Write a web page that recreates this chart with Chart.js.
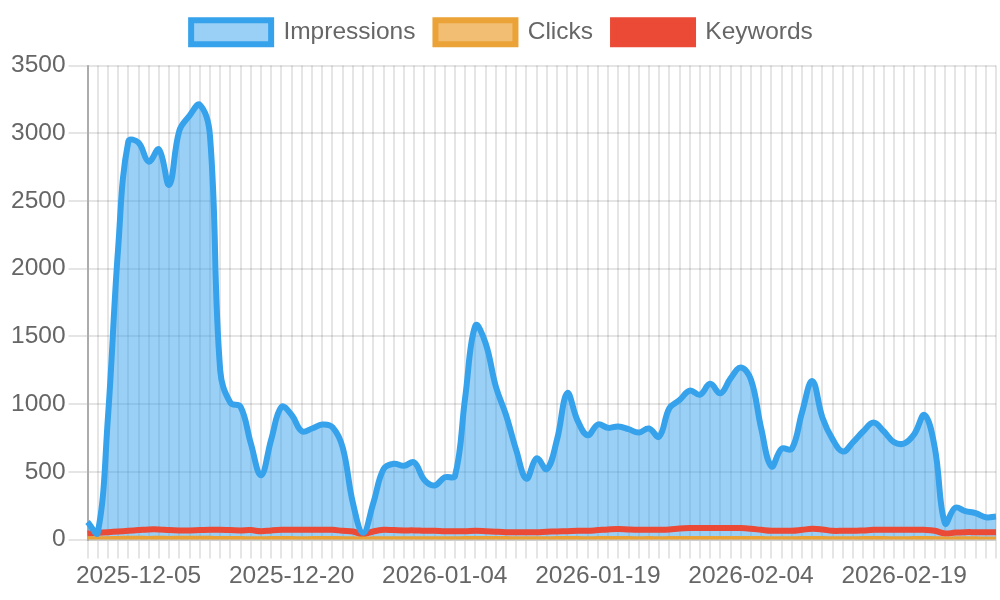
<!DOCTYPE html>
<html>
<head>
<meta charset="utf-8">
<title>Impressions / Clicks / Keywords</title>
<script src="https://cdn.jsdelivr.net/npm/chart.js@4"></script>
<style>
  html, body { margin: 0; padding: 0; background: #fff; }
  #wrap { width: 1000px; height: 600px; }
</style>
</head>
<body>
<div id="wrap"><canvas id="chart" width="1000" height="600"></canvas></div>
<script>
// dates on the x axis (one day, 2026-01-27, is missing in the source data)
const dates = [
  "2025-11-30",
  "2025-12-01", "2025-12-02", "2025-12-03", "2025-12-04", "2025-12-05", "2025-12-06", "2025-12-07", "2025-12-08", "2025-12-09", "2025-12-10",
  "2025-12-11", "2025-12-12", "2025-12-13", "2025-12-14", "2025-12-15", "2025-12-16", "2025-12-17", "2025-12-18", "2025-12-19", "2025-12-20",
  "2025-12-21", "2025-12-22", "2025-12-23", "2025-12-24", "2025-12-25", "2025-12-26", "2025-12-27", "2025-12-28", "2025-12-29", "2025-12-30",
  "2025-12-31",
  "2026-01-01", "2026-01-02", "2026-01-03", "2026-01-04", "2026-01-05", "2026-01-06", "2026-01-07", "2026-01-08", "2026-01-09", "2026-01-10",
  "2026-01-11", "2026-01-12", "2026-01-13", "2026-01-14", "2026-01-15", "2026-01-16", "2026-01-17", "2026-01-18", "2026-01-19", "2026-01-20",
  "2026-01-21", "2026-01-22", "2026-01-23", "2026-01-24", "2026-01-25", "2026-01-26", "2026-01-28", "2026-01-29", "2026-01-30", "2026-01-31",
  "2026-02-01", "2026-02-02", "2026-02-03", "2026-02-04", "2026-02-05", "2026-02-06", "2026-02-07", "2026-02-08", "2026-02-09", "2026-02-10",
  "2026-02-11", "2026-02-12", "2026-02-13", "2026-02-14", "2026-02-15", "2026-02-16", "2026-02-17", "2026-02-18", "2026-02-19", "2026-02-20",
  "2026-02-21", "2026-02-22", "2026-02-23", "2026-02-24", "2026-02-25", "2026-02-26", "2026-02-27", "2026-02-28"
];

const impressions = [
  130, 50, 900, 2150, 2940, 2930, 2790, 2880, 2620, 3020,
  3130, 3210, 2980, 1250, 1010, 980, 710, 475, 740, 980,
  920, 800, 820, 850, 830, 680, 270, 50, 270, 520,
  560, 545, 570, 440, 400, 460, 470, 1050, 1580, 1450,
  1130, 920, 660, 450, 600, 520, 740, 1080, 880, 770,
  850, 825, 835, 815, 790, 820, 760, 970, 1030, 1100,
  1070, 1150, 1080, 1190, 1270, 1180, 820, 540, 670, 670,
  940, 1170, 900, 740, 650, 720, 800, 865, 800, 720,
  710, 780, 920, 680, 120, 235, 210, 195, 165, 170
];

const clicks = [
  3, 2, 3, 5, 6, 6, 5, 6, 5, 6,
  6, 7, 6, 4, 4, 4, 3, 3, 4, 4,
  4, 3, 4, 4, 4, 3, 2, 1, 2, 3,
  3, 3, 3, 2, 2, 3, 3, 4, 5, 5,
  4, 4, 3, 3, 3, 3, 4, 4, 4, 3,
  4, 4, 4, 4, 3, 4, 3, 4, 4, 5,
  4, 5, 4, 5, 5, 5, 4, 3, 3, 3,
  4, 5, 4, 3, 3, 3, 4, 4, 4, 3,
  3, 4, 4, 3, 1, 2, 2, 2, 1, 1
];

const keywords = [
  45, 50, 55, 60, 65, 70, 75, 75, 70, 68,
  68, 70, 72, 72, 70, 68, 70, 62, 68, 72,
  72, 72, 72, 72, 72, 65, 60, 40, 60, 72,
  70, 68, 68, 65, 65, 62, 62, 62, 65, 62,
  58, 55, 55, 55, 55, 58, 60, 62, 65, 65,
  70, 75, 78, 75, 73, 73, 73, 75, 82, 85,
  85, 85, 85, 85, 85, 80, 72, 65, 65, 65,
  72, 80, 75, 65, 65, 65, 68, 72, 72, 72,
  72, 72, 72, 65, 45, 52, 55, 55, 55, 55
];

const yTicks = [0, 500, 1000, 1500, 2000, 2500, 3000, 3500];

const textColor = "#666";
const gridColor = "rgba(0,0,0,0.1)";
const font = { size: 24.5, family: "'Liberation Sans', Arial, sans-serif" };

// leaves some room between the legend and the plot
const legendGap = {
  id: "legendGap",
  beforeInit(chart) {
    const fit = chart.legend.fit;
    chart.legend.fit = function () {
      fit.call(this);
      this.height += 11;
    };
  },
};

const ctx = document.getElementById("chart").getContext("2d");
new Chart(ctx, {
  type: "line",
  data: {
    labels: dates,
    datasets: [
      {
        label: "Impressions",
        data: impressions,
        borderColor: "rgb(54,162,235)",
        backgroundColor: "rgba(54,162,235,0.5)",
        fill: "origin",
      },
      {
        label: "Clicks",
        data: clicks,
        borderColor: "rgb(235,162,55)",
        backgroundColor: "rgba(235,162,55,0.7)",
        fill: "origin",
      },
      {
        label: "Keywords",
        data: keywords,
        borderColor: "rgb(234,74,54)",
        backgroundColor: "rgb(234,74,54)",
        fill: false,
      },
    ],
  },
  plugins: [legendGap],
  options: {
    responsive: false,
    animation: false,
    layout: { padding: { left: 8, right: 4, bottom: 6 } },
    elements: {
      point: { radius: 0, hoverRadius: 0 },
      line: { tension: 0.4, borderWidth: 6 },
    },
    plugins: {
      filler: { drawTime: "beforeDatasetsDraw" },
      tooltip: { enabled: false },
      legend: {
        labels: {
          boxWidth: 80,
          boxHeight: 24,
          padding: 20,
          color: textColor,
          font: font,
        },
      },
    },
    scales: {
      x: {
        grid: { color: gridColor, lineWidth: 2, tickLength: 19 },
        border: { color: gridColor, width: 2 },
        ticks: {
          autoSkip: false,
          maxRotation: 0,
          padding: 3,
          color: textColor,
          font: font,
          // only every 15th date gets a label, starting at the 6th
          callback: (v, i) => (i % 15 === 5 ? dates[i] : ""),
        },
      },
      y: {
        min: yTicks[0],
        max: yTicks[yTicks.length - 1],
        grid: { color: gridColor, lineWidth: 2, tickLength: 19 },
        border: { color: "rgba(0,0,0,0.25)", width: 2 },
        ticks: {
          stepSize: yTicks[1] - yTicks[0],
          padding: 3,
          color: textColor,
          font: font,
          callback: (v) => String(v),
        },
      },
    },
  },
});
</script>
</body>
</html>
